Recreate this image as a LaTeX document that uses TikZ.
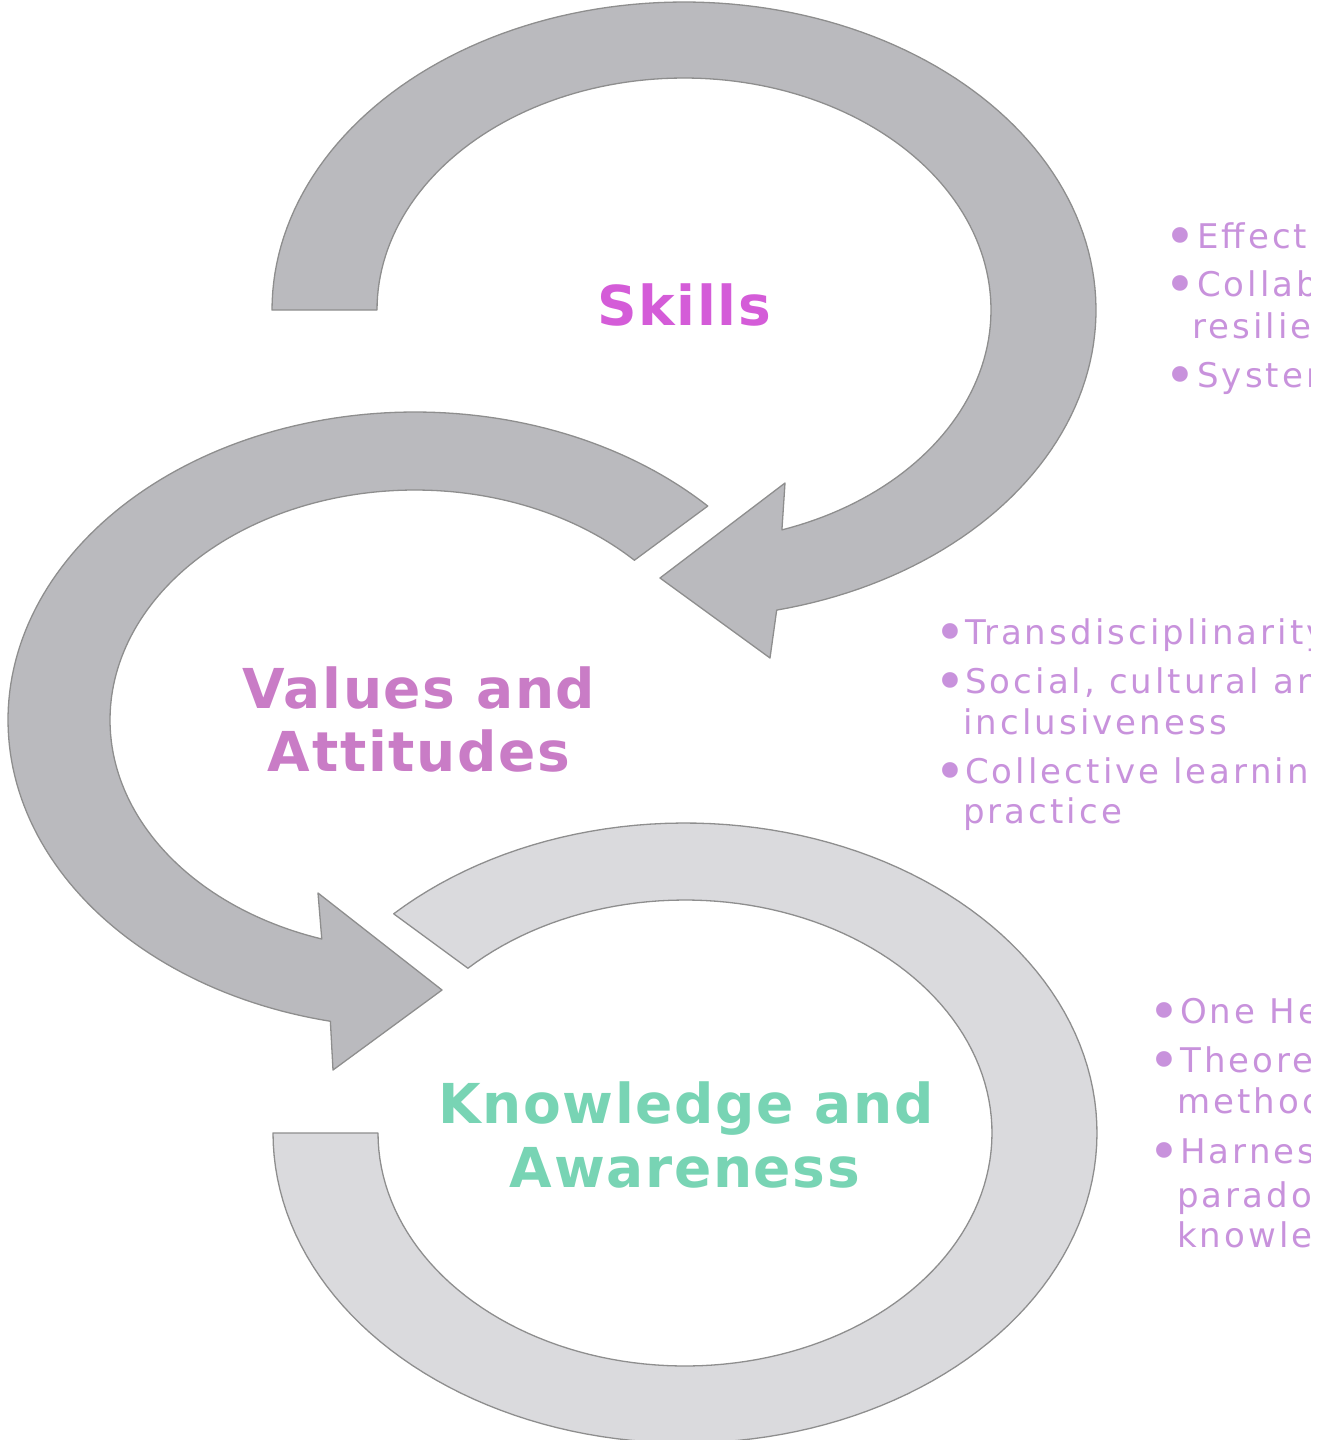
\documentclass[tikz,border=0pt]{standalone}
\usepackage{fontspec}
\setmainfont{DejaVu Sans}
\newfontfamily\bulletfont{DejaVu Sans}[LetterSpace=9]
\newfontfamily\headfont{DejaVu Sans}[LetterSpace=3]
\definecolor{arrowdark}{HTML}{BABABE}
\definecolor{arrowlight}{HTML}{DADADD}
\definecolor{edgegray}{HTML}{8E8E8E}
\definecolor{skillc}{HTML}{D45CD8}
\definecolor{valuec}{HTML}{C97CC6}
\definecolor{knowc}{HTML}{78D4B4}
\definecolor{bulletc}{HTML}{C892DC}
\tikzset{
  ringshape/.style={draw=edgegray, line width=1.3pt, line join=round},
  titletext/.style={font=\headfont\bfseries\fontsize{55}{63}\selectfont, inner sep=0pt, anchor=base},
  btext/.style={font=\bulletfont\fontsize{34}{40}\selectfont, text=bulletc, inner sep=0pt, anchor=base west},
  bdot/.style={font=\fontsize{54}{60}\selectfont, text=bulletc, inner sep=0pt, anchor=base},
}
\begin{document}
\begin{tikzpicture}[x=1pt,y=-1pt]
\useasboundingbox (0,0) rectangle (1319,1440);
% Knowledge ring (bottom)
\path[ringshape, fill=arrowlight]
  plot[domain=-135:180, samples=150, variable=\t] ({685+412*cos(\t)},{1133+310*sin(\t)})
  -- plot[domain=180:-135, samples=150, variable=\t] ({685+307*cos(\t)},{1133+233*sin(\t)})
  -- cycle;
% Values arrow (middle)
\path[ringshape, fill=arrowdark]
  plot[domain=-44:-258, samples=150, variable=\t] ({415+407*cos(\t)},{720+308*sin(\t)})
  -- (333,1070) -- (442,990) -- (318,893)
  -- plot[domain=-252.2:-44, samples=150, variable=\t] ({415+305*cos(\t)},{720+230*sin(\t)})
  -- cycle;
% Skills arrow (top)
\path[ringshape, fill=arrowdark]
  plot[domain=180:437, samples=150, variable=\t] ({684+412*cos(\t)},{310+308*sin(\t)})
  -- (770,658) -- (660,578) -- (785,483)
  -- plot[domain=431.4:180, samples=150, variable=\t] ({684+307*cos(\t)},{310+232*sin(\t)})
  -- cycle;
% titles
\node[titletext, text=skillc] (skills) at (684,325) {Skills};
\node[titletext, text=valuec] (values1) at (419,708) {Values and};
\node[titletext, text=valuec] (values2) at (419,771) {Attitudes};
\node[titletext, text=knowc] (know1) at (686,1123) {Knowledge and};
\node[titletext, text=knowc] (know2) at (685,1187) {Awareness};
\begin{scope}
\clip (0,0) rectangle (1310,1440);
% top list
\node[bdot] (d1) at (1180,255) {•};
\node[btext] (t1) at (1197,248) {Effective communication};
\node[bdot] (d2) at (1180,303) {•};
\node[btext] (t2) at (1197,296) {Collaboration and};
\node[btext] (t3) at (1192,338) {resilience};
\node[bdot] (d3) at (1180,394) {•};
\node[btext] (t4) at (1197,387) {Systems thinking};
% middle list
\node[bdot] (d4) at (950,651) {•};
\node[btext] (m1) at (965,644) {Transdisciplinarity};
\node[bdot] (d5) at (950,700) {•};
\node[btext] (m2) at (965,693) {Social, cultural and};
\node[btext] (m3) at (963,734) {inclusiveness};
\node[bdot] (d6) at (950,790) {•};
\node[btext] (m4) at (965,783) {Collective learning};
\node[btext] (m5) at (963,823) {practice};
% bottom list
\node[bdot] (d7) at (1164,1030) {•};
\node[btext] (b1) at (1180,1023) {One Health};
\node[bdot] (d8) at (1164,1079) {•};
\node[btext] (b2) at (1180,1072) {Theoretical and};
\node[btext] (b3) at (1177,1113) {methodological};
\node[bdot] (d9) at (1164,1170) {•};
\node[btext] (b4) at (1180,1163) {Harnessing};
\node[btext] (b5) at (1177,1207) {paradoxes of};
\node[btext] (b6) at (1177,1247) {knowledge};
\end{scope}
\end{tikzpicture}
\end{document}
